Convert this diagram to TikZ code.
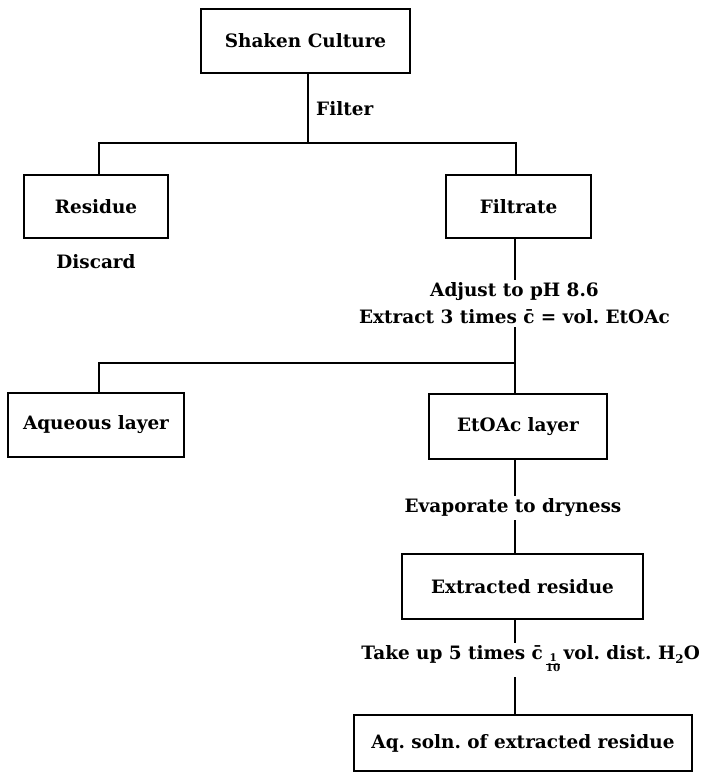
\documentclass[tikz,border=0pt]{standalone}
\usepackage{amsmath}
\usepackage{fontspec}
\setmainfont{DejaVu Serif}
\newcommand{\tinyfrac}[2]{\raisebox{-0.7ex}{\fontsize{10.5}{10.5}\selectfont\renewcommand\arraystretch{0.72}\setlength\tabcolsep{0pt}\begin{tabular}{c}#1\\\hline #2\end{tabular}}}
\begin{document}
\begin{tikzpicture}[x=1bp,y=-1bp,
  every node/.style={font=\fontsize{18.5}{27}\selectfont\bfseries},
  box/.style={draw,line width=1.2bp,inner sep=0pt,align=center},
  lbl/.style={inner sep=3bp,align=center},
  conn/.style={line width=1.2bp}]
\useasboundingbox (0,0) rectangle (701,775);
% boxes
\node[box,minimum width=209bp,minimum height=64bp] (shaken) at (305.5,41) {Shaken Culture};
\node[box,minimum width=144bp,minimum height=63bp] (residue) at (96,206.5) {Residue};
\node[box,minimum width=145bp,minimum height=63bp] (filtrate) at (518.5,206.5) {Filtrate};
\node[box,minimum width=176bp,minimum height=64bp] (aqueous) at (96,425) {Aqueous layer};
\node[box,minimum width=178bp,minimum height=65bp] (etoac) at (518,426.5) {EtOAc layer};
\node[box,minimum width=241bp,minimum height=65bp] (extracted) at (522.5,586.5) {Extracted residue};
\node[box,minimum width=338bp,minimum height=56bp] (aqsoln) at (523,743) {Aq.\ soln.\ of extracted residue};
% labels
\node[lbl,anchor=west] (filter) at (313,109) {Filter};
\node[lbl] (discard) at (96,262) {Discard};
\node[lbl] (adjust) at (514.5,303.5) {Adjust to pH 8.6\\Extract 3 times c̄ = vol.\ EtOAc};
\node[lbl] (evap) at (513,508) {Evaporate to dryness};
\node[lbl,anchor=east] (takeup) at (703,660) {Take up 5 times c̄\,\tinyfrac{1}{10}\,vol.\ dist.\ H\raisebox{-0.4ex}{\fontsize{12}{12}\selectfont 2}O};
% junction coordinates
\coordinate (j1m) at (308,143);
\coordinate (j1l) at (99,143);
\coordinate (j1r) at (516,143);
\coordinate (j2l) at (99,363);
\coordinate (j2r) at (515,363);
% connectors
\draw[conn] (shaken.south -| j1m) -- (j1m);
\draw[conn] (residue.north -| j1l) -- (j1l) -- (j1r) -- (filtrate.north -| j1r);
\draw[conn] (filtrate.south -| j2r) -- (adjust.north -| j2r);
\draw[conn] (adjust.south -| j2r) -- (j2r);
\draw[conn] (aqueous.north -| j2l) -- (j2l) -- (j2r) -- (etoac.north -| j2r);
\draw[conn] (etoac.south -| j2r) -- (evap.north -| j2r);
\draw[conn] (evap.south -| j2r) -- (extracted.north -| j2r);
\draw[conn] (extracted.south -| j2r) -- (takeup.north -| j2r);
\draw[conn] (takeup.south -| j2r) -- (aqsoln.north -| j2r);
\end{tikzpicture}
\end{document}
